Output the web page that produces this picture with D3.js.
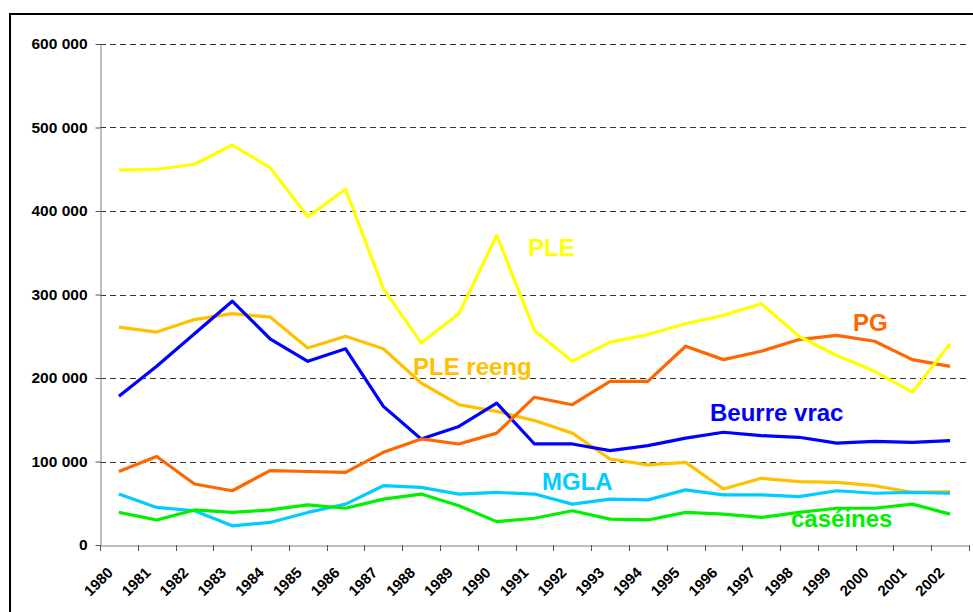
<!DOCTYPE html>
<html>
<head>
<meta charset="utf-8">
<script src="https://cdn.jsdelivr.net/npm/d3@7"></script>
<style>
  body { margin: 0; background: #fff; }
  text { font-family: Arial, "Liberation Sans", sans-serif; font-weight: bold; }
</style>
</head>
<body>
<div id="chart"></div>
<script>
// Dimensiones
const width = 973;
const height = 612;

// Données (tonnes)
const annees = d3.range(1980, 2003).map(String);
const ple = [449000, 450000, 456000, 479000, 452000, 393000, 426000, 307000, 242000, 277000, 371000, 257000, 220000, 243000, 252000, 265000, 275000, 289000, 250000, 227000, 208000, 183000, 241000];
const pleReeng = [261000, 255000, 270000, 277000, 273000, 236000, 250000, 235000, 194000, 168000, 160000, 149000, 134000, 103000, 96000, 99000, 67000, 80000, 76000, 75000, 71000, 63000, 64000];
const beurreVrac = [178000, 214000, 253000, 292000, 247000, 220000, 235000, 166000, 127000, 142000, 170000, 121000, 121000, 113000, 119000, 128000, 135000, 131000, 129000, 122000, 124000, 123000, 125000];
const pg = [88000, 106000, 73000, 65000, 89000, 88000, 87000, 111000, 127000, 121000, 134000, 177000, 168000, 196000, 196000, 238000, 222000, 232000, 246000, 251000, 244000, 222000, 214000];
const mgla = [61000, 45000, 41000, 23000, 27000, 39000, 49000, 71000, 69000, 61000, 63000, 61000, 49000, 55000, 54000, 66000, 60000, 60000, 58000, 65000, 62000, 63000, 62000];
const caseines = [39000, 30000, 42000, 39000, 42000, 48000, 44000, 55000, 61000, 47000, 28000, 32000, 41000, 31000, 30000, 39000, 37000, 33000, 39000, 44000, 44000, 49000, 37000];
const yTicks = [0, 100000, 200000, 300000, 400000, 500000, 600000];

// Séries (ordre de tracé) + étiquettes
const series = [
  {nom: "PLE reeng", valeurs: pleReeng, couleur: "#FFC000", lx: 413, ly: 375},
  {nom: "MGLA", valeurs: mgla, couleur: "#00CCFF", lx: 542, ly: 490},
  {nom: "caséines", valeurs: caseines, couleur: "#00F000", lx: 791, ly: 527},
  {nom: "Beurre vrac", valeurs: beurreVrac, couleur: "#0000FF", lx: 710, ly: 421},
  {nom: "PG", valeurs: pg, couleur: "#FF6600", lx: 853, ly: 331},
  {nom: "PLE", valeurs: ple, couleur: "#FFFF00", lx: 528, ly: 256}
];

const svg = d3.select("#chart")
    .append("svg")
    .attr("width", width)
    .attr("height", height);

// Cadre
svg.append("rect")
    .attr("x", 10).attr("y", 14)
    .attr("width", 1000).attr("height", 700)
    .attr("fill", "none")
    .attr("stroke", "#000")
    .attr("stroke-width", 2);

const x = d3.scaleBand().domain(annees).range([100, 969]).padding(0);
const y = d3.scaleLinear().domain([0, 600000]).range([545, 44]);

const fr = d3.formatLocale({decimal: ",", thousands: " ", grouping: [3], currency: ["", ""]});
const fmt = fr.format(",");

// Grille horizontale en tirets
svg.append("g")
    .selectAll("line")
    .data(yTicks.filter(d => d > 0))
    .enter()
    .append("line")
    .attr("x1", 100).attr("x2", 969)
    .attr("y1", d => Math.round(y(d)) + 0.5)
    .attr("y2", d => Math.round(y(d)) + 0.5)
    .attr("stroke", "#333")
    .attr("stroke-dasharray", "6,4");

// Axe Y
const yAxis = svg.append("g")
    .attr("transform", "translate(100.5,0)")
    .call(d3.axisLeft(y).tickValues(yTicks).tickFormat(fmt).tickSize(5).tickSizeOuter(0).tickPadding(8));
yAxis.select(".domain").attr("stroke", "#808080");
yAxis.selectAll(".tick line").attr("stroke", "#555");
yAxis.selectAll(".tick text")
    .attr("font-size", 15.5)
    .attr("fill", "#000")
    .style("font-family", "Arial, 'Liberation Sans', sans-serif");

// Axe X
const xAxis = svg.append("g")
    .attr("transform", "translate(0,545.5)")
    .call(d3.axisBottom(x).tickSize(0).tickSizeOuter(0).tickPadding(0));
xAxis.select(".domain").attr("stroke", "#808080");
xAxis.selectAll(".tick text")
    .attr("font-size", 15)
    .attr("fill", "#000")
    .attr("text-anchor", "end")
    .attr("dy", 0)
    .attr("transform", "translate(-5,28) rotate(-45)")
    .style("font-family", "Arial, 'Liberation Sans', sans-serif");

// Graduations entre catégories
svg.append("g")
    .selectAll("line")
    .data(annees.map(a => x(a)).concat([x.range()[1]]))
    .enter()
    .append("line")
    .attr("x1", d => Math.round(d) + 0.5)
    .attr("x2", d => Math.round(d) + 0.5)
    .attr("y1", 545).attr("y2", 551)
    .attr("stroke", "#555");

// Courbes
const line = d3.line()
    .x((d, i) => x(annees[i]) + x.bandwidth() / 2)
    .y(d => y(d));

svg.append("g")
    .selectAll("path")
    .data(series)
    .enter()
    .append("path")
    .attr("d", d => line(d.valeurs))
    .attr("fill", "none")
    .attr("stroke", d => d.couleur)
    .attr("stroke-width", 3.2)
    .attr("stroke-linejoin", "round");

// Étiquettes des séries
svg.append("g")
    .selectAll("text")
    .data(series)
    .enter()
    .append("text")
    .attr("x", d => d.lx)
    .attr("y", d => d.ly)
    .attr("font-size", 24)
    .attr("fill", d => d.couleur)
    .text(d => d.nom);
</script>
</body>
</html>
